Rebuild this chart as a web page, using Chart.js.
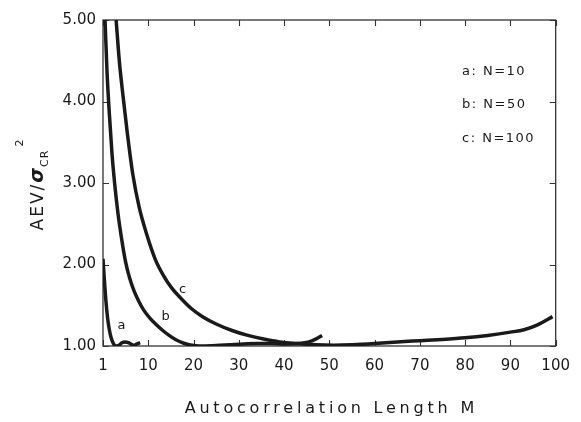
<!DOCTYPE html>
<html>
<head>
<meta charset="utf-8">
<script src="https://cdn.jsdelivr.net/npm/chart.js@4/dist/chart.umd.min.js"></script>
<style>
  html, body { margin: 0; padding: 0; background: #fff; }
  #wrap { width: 581px; height: 422px; }
</style>
</head>
<body>
<div id="wrap"><canvas id="aev"></canvas></div>
<script>
// autocorrelation length M (axis units) and AEV / sigma_CR^2 for each N
const mA   = [0, 0.25, 0.6, 1.0, 1.4, 1.8, 2.3, 2.8, 3.5, 4.2, 4.9, 5.6, 6.3, 6.9, 7.5, 8.2];
const aevA = [2.07, 1.85, 1.58, 1.35, 1.20, 1.10, 1.03, 1.0, 1.01, 1.04, 1.05, 1.04, 1.02, 1.01, 1.025, 1.04];

const mB   = [0.45, 0.9, 1.4, 2.0, 2.6, 3.3, 4.1, 5.0, 5.9, 6.9, 7.9, 9.0, 10.4, 11.8, 13.2, 14.6, 16.0, 17.5, 19.0, 20.5, 22, 25, 28, 31, 34, 37, 40, 43, 45.5, 47.2, 48.4];
const aevB = [5.0, 4.35, 3.85, 3.35, 2.98, 2.63, 2.32, 2.03, 1.83, 1.67, 1.55, 1.44, 1.34, 1.26, 1.19, 1.13, 1.08, 1.04, 1.015, 1.003, 1.0, 1.005, 1.015, 1.025, 1.03, 1.03, 1.025, 1.03, 1.05, 1.09, 1.13];

const mC   = [2.9, 3.6, 4.4, 5.4, 6.6, 8.0, 9.6, 11.5, 13.3, 15.2, 17.3, 19.5, 22, 25, 28.5, 32, 35.5, 39, 43, 47, 51, 55, 60, 65, 70, 75, 80, 85, 90, 93, 96, 99.3];
const aevC = [5.0, 4.5, 4.08, 3.6, 3.1, 2.7, 2.38, 2.07, 1.87, 1.71, 1.58, 1.46, 1.36, 1.27, 1.19, 1.13, 1.085, 1.05, 1.03, 1.015, 1.01, 1.015, 1.03, 1.05, 1.065, 1.08, 1.10, 1.13, 1.17, 1.20, 1.26, 1.36];

const curveNames  = ['a', 'b', 'c'];
const legendLines = ['a: N=10', 'b: N=50', 'c: N=100'];
// where the small curve letters sit (M, AEV)
const letterPos = [[4.1, 1.245], [13.85, 1.356], [17.6, 1.69]];

const xTicks = [0, 10, 20, 30, 40, 50, 60, 70, 80, 90, 100];
const yTicks = [1, 2, 3, 4, 5];

const ink = '#1a1a1a';
const font = '"DejaVu Sans", sans-serif';

function pts(xs, ys) {
  return xs.map((x, i) => ({ x: x, y: ys[i] }));
}

function curve(label, xs, ys) {
  return {
    label: label,
    data: pts(xs, ys),
    borderColor: ink,
    borderWidth: 3.5,
    pointRadius: 0,
    fill: false,
    cubicInterpolationMode: 'monotone'
  };
}

// box, inward tick marks, titles and annotations
const decor = {
  id: 'decor',
  beforeDatasetsDraw(chart) {
    const ctx = chart.ctx;
    const a = chart.chartArea;
    const xs = chart.scales.x, ys = chart.scales.y;
    ctx.save();
    ctx.strokeStyle = '#333';
    ctx.lineWidth = 1.3;
    ctx.strokeRect(a.left, a.top, a.right - a.left, a.bottom - a.top);
    ctx.lineWidth = 1.1;
    ctx.beginPath();
    xTicks.forEach(v => {
      const px = Math.round(xs.getPixelForValue(v)) + 0.5;
      ctx.moveTo(px, a.bottom); ctx.lineTo(px, a.bottom - 6);
      ctx.moveTo(px, a.top);    ctx.lineTo(px, a.top + 6);
    });
    yTicks.forEach(v => {
      const py = Math.round(ys.getPixelForValue(v)) + 0.5;
      ctx.moveTo(a.left, py);  ctx.lineTo(a.left + 6, py);
      ctx.moveTo(a.right, py); ctx.lineTo(a.right - 6, py);
    });
    ctx.stroke();
    ctx.restore();
  },
  afterDraw(chart) {
    const ctx = chart.ctx;
    const a = chart.chartArea;
    const xs = chart.scales.x, ys = chart.scales.y;
    ctx.save();
    ctx.fillStyle = ink;

    // legend text
    ctx.font = '13px ' + font;
    ctx.letterSpacing = '1.5px';
    ctx.textAlign = 'left';
    ctx.textBaseline = 'alphabetic';
    const baselines = [74.5, 108, 141.5];
    legendLines.forEach((t, i) => ctx.fillText(t, 462, baselines[i]));

    // curve letters
    ctx.letterSpacing = '0px';
    ctx.textAlign = 'center';
    ctx.textBaseline = 'middle';
    curveNames.forEach((n, i) => {
      ctx.fillText(n, xs.getPixelForValue(letterPos[i][0]), ys.getPixelForValue(letterPos[i][1]));
    });

    // x title
    ctx.font = '16px ' + font;
    ctx.letterSpacing = '3.8px';
    ctx.textAlign = 'left';
    ctx.textBaseline = 'alphabetic';
    const xt = 'Autocorrelation Length M';
    const w = ctx.measureText(xt).width;
    ctx.fillText(xt, (a.left + a.right) / 2 - w / 2 + 2, 413);

    // y title: AEV / sigma_CR ^2, rotated
    ctx.translate(43, 185);
    ctx.rotate(-Math.PI / 2);
    const parts = [
      { t: 'AEV/', f: '17px ' + font, dy: 0, ls: '2px' },
      { t: '\u03c3', f: 'bold italic 19px ' + font, dy: 0, ls: '0px' },
      { t: 'CR', f: '11px ' + font, dy: 5, ls: '1px' },
      { t: '2', f: '11px ' + font, dy: -20, ls: '0px' }
    ];
    let total = 0;
    parts.forEach(p => {
      ctx.font = p.f; ctx.letterSpacing = p.ls;
      p.w = ctx.measureText(p.t).width;
      total += p.w;
    });
    total += 4;
    let x = -total / 2;
    parts.forEach((p, i) => {
      ctx.font = p.f; ctx.letterSpacing = p.ls;
      ctx.fillText(p.t, x, p.dy);
      x += p.w + (i === 1 ? 1 : 0) + (i === 2 ? 3 : 0);
    });
    ctx.restore();
  }
};

new Chart(document.getElementById('aev').getContext('2d'), {
  type: 'line',
  data: {
    datasets: [
      curve('a', mA, aevA),
      curve('b', mB, aevB),
      curve('c', mC, aevC)
    ]
  },
  options: {
    responsive: true,
    maintainAspectRatio: false,
    animation: false,
    layout: { padding: { top: 20, right: 16, left: 0, bottom: 0 } },
    plugins: {
      legend: { display: false },
      tooltip: { enabled: false }
    },
    scales: {
      x: {
        type: 'linear',
        min: 0,
        max: 100,
        afterFit(s) { s.height = 76; },
        afterBuildTicks(s) { s.ticks = xTicks.map(v => ({ value: v })); },
        grid: { display: false, drawTicks: false },
        border: { display: false },
        ticks: {
          color: ink,
          font: { family: font, size: 15 },
          padding: 11,
          maxRotation: 0,
          callback: v => (v === 0 ? '1' : String(v))
        }
      },
      y: {
        min: 1,
        max: 5,
        afterFit(s) { s.width = 103; },
        afterBuildTicks(s) { s.ticks = yTicks.map(v => ({ value: v })); },
        grid: { display: false, drawTicks: false },
        border: { display: false },
        ticks: {
          color: ink,
          font: { family: font, size: 15 },
          padding: 7,
          callback: v => v.toFixed(2)
        }
      }
    }
  },
  plugins: [decor]
});
</script>
</body>
</html>
